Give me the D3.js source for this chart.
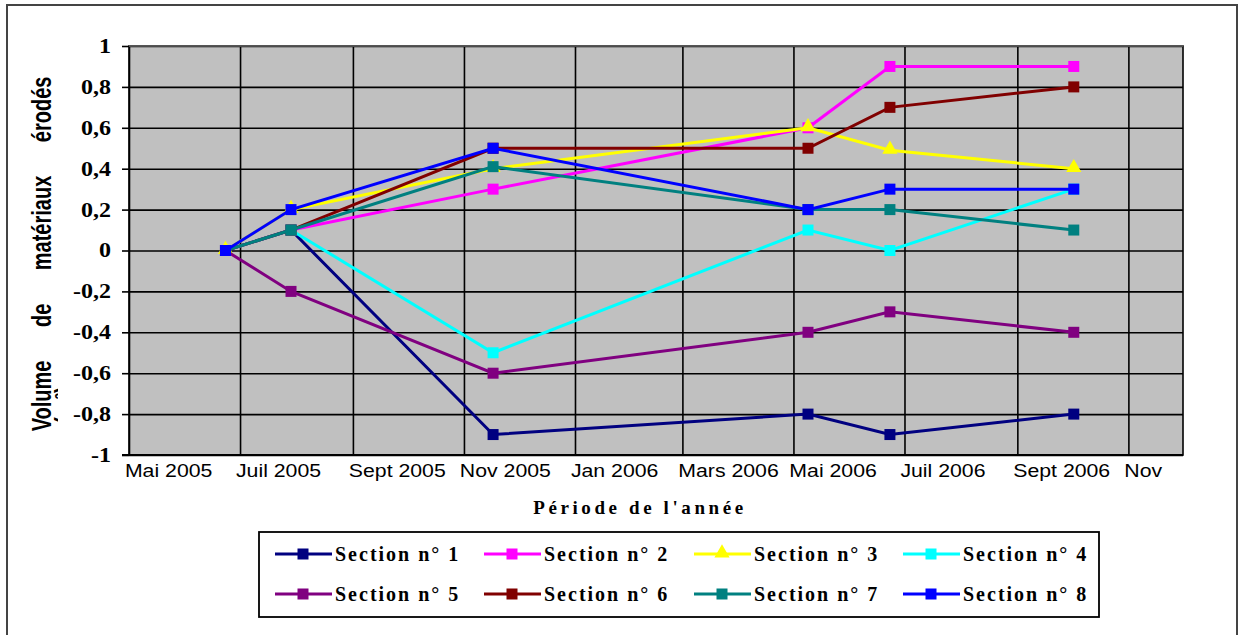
<!DOCTYPE html>
<html lang="fr">
<head>
<meta charset="utf-8">
<title>Volume de matériaux érodés</title>
<style>
  body { margin: 0; background: #fff; }
  svg { display: block; }
  .tick line { stroke: #000; stroke-width: 1.6; }
  .domain { display: none; }
</style>
<script src="https://d3js.org/d3.v7.min.js"></script>
</head>
<body>
<div class="chart"></div>
<script>
// dates of the survey campaigns
const dates = ["2005-06-23", "2005-07-29", "2005-11-17", "2006-05-09", "2006-06-23", "2006-10-02"];

const sectionNames = ["Section n° 1", "Section n° 2", "Section n° 3", "Section n° 4",
                      "Section n° 5", "Section n° 6", "Section n° 7", "Section n° 8"];
const sectionColors = ["#000080", "#ff00ff", "#ffff00", "#00ffff",
                       "#800080", "#800000", "#008080", "#0000ff"];

const section1 = [0, 0.1, -0.9, -0.8, -0.9, -0.8];
const section2 = [0, 0.1, 0.3, 0.6, 0.9, 0.9];
const section3 = [0, 0.2, 0.4, 0.6, 0.49, 0.4];
const section4 = [0, 0.1, -0.5, 0.1, 0, 0.3];
const section5 = [0, -0.2, -0.6, -0.4, -0.3, -0.4];
const section6 = [0, 0.1, 0.5, 0.5, 0.7, 0.8];
const section7 = [0, 0.1, 0.41, 0.2, 0.2, 0.1];
const section8 = [0, 0.2, 0.5, 0.2, 0.3, 0.3];
const sectionValues = [section1, section2, section3, section4, section5, section6, section7, section8];

const yTicks = [-1, -0.8, -0.6, -0.4, -0.2, 0, 0.2, 0.4, 0.6, 0.8, 1];
const monthTicks = ["2005-05-01", "2005-07-01", "2005-09-01", "2005-11-01", "2006-01-01",
                    "2006-03-01", "2006-05-01", "2006-07-01", "2006-09-01", "2006-11-01"];
const monthLabels = ["Mai 2005", "Juil 2005", "Sept 2005", "Nov 2005", "Jan 2006",
                     "Mars 2006", "Mai 2006", "Juil 2006", "Sept 2006", "Nov"];
const xDomain = ["2005-05-01", "2006-12-01"];

const W = 1244, H = 635;
const plot = { left: 129, top: 46, right: 1183, bottom: 455 };
const parse = d3.utcParse("%Y-%m-%d");
const serif = '"Liberation Serif", "Times New Roman", Times, "DejaVu Serif", serif';
const sans = '"Liberation Sans", Arial, Helvetica, "DejaVu Sans", sans-serif';

const x = d3.scaleUtc().domain(xDomain.map(parse)).range([plot.left, plot.right]);
const y = d3.scaleLinear().domain([-1, 1]).range([plot.bottom, plot.top]);

const svg = d3.select(".chart").append("svg")
  .attr("width", W).attr("height", H);

// outer frame
svg.append("rect")
  .attr("x", 7).attr("y", 5).attr("width", 1230).attr("height", 640)
  .attr("fill", "none").attr("stroke", "#444").attr("stroke-width", 2);

// plot background
svg.append("rect")
  .attr("x", plot.left).attr("y", plot.top)
  .attr("width", plot.right - plot.left).attr("height", plot.bottom - plot.top)
  .attr("fill", "#c0c0c0");

// vertical gridlines
svg.append("g")
  .attr("transform", `translate(0,${plot.bottom})`)
  .call(d3.axisBottom(x).tickValues(monthTicks.map(parse))
    .tickSize(-(plot.bottom - plot.top)).tickFormat(""));

// horizontal gridlines + y ticks
svg.append("g")
  .attr("transform", `translate(${plot.left},0)`)
  .call(d3.axisLeft(y).tickValues(yTicks).tickSizeInner(7).tickSizeOuter(0)
    .tickFormat(d => String(d).replace(".", ",")))
  .call(g => g.selectAll(".tick").append("line")
    .attr("x2", plot.right - plot.left))
  .call(g => g.selectAll("text")
    .attr("x", -15)
    .attr("transform", "scale(1.2,1)")
    .attr("font-family", serif).attr("font-weight", "bold")
    .attr("font-size", 20).attr("fill", "#000"));

// x labels
svg.append("g")
  .attr("transform", `translate(0,${plot.bottom})`)
  .call(d3.axisBottom(x).tickValues(monthTicks.map(parse)).tickSize(0)
    .tickFormat((d, i) => monthLabels[i]))
  .call(g => g.selectAll("text")
    .attr("text-anchor", "start").attr("x", -4).attr("y", 22).attr("dy", 0)
    .attr("transform", "scale(1.15,1)")
    .attr("font-family", sans).attr("font-size", 18.5).attr("fill", "#000"));

// plot frame
svg.append("rect")
  .attr("x", plot.left).attr("y", plot.top)
  .attr("width", plot.right - plot.left).attr("height", plot.bottom - plot.top)
  .attr("fill", "none").attr("stroke", "#000").attr("stroke-width", 1.6);
svg.append("line")
  .attr("x1", plot.left).attr("x2", plot.right)
  .attr("y1", plot.top).attr("y2", plot.top)
  .attr("stroke", "#666").attr("stroke-width", 1.6);
svg.append("line")
  .attr("x1", plot.left - 7).attr("x2", plot.right)
  .attr("y1", plot.bottom).attr("y2", plot.bottom)
  .attr("stroke", "#000").attr("stroke-width", 2);

// series
const line = d3.line()
  .x((d, i) => x(parse(dates[i])))
  .y(d => y(d));

const marker = (sel, i, cx, cy) => {
  if (i === 2) {
    sel.append("path")
      .attr("d", d3.symbol(d3.symbolTriangle, 100)())
      .attr("transform", `translate(${cx},${cy - 1})`)
      .attr("fill", sectionColors[i]);
  } else {
    sel.append("rect")
      .attr("x", cx - 5.5).attr("y", cy - 5.5).attr("width", 11).attr("height", 11)
      .attr("fill", sectionColors[i]);
  }
};

sectionValues.forEach((vals, i) => {
  const g = svg.append("g");
  g.append("path")
    .attr("d", line(vals))
    .attr("fill", "none")
    .attr("stroke", sectionColors[i])
    .attr("stroke-width", 3);
  vals.forEach((v, j) => marker(g, i, x(parse(dates[j])), y(v)));
});

// y axis title (second line is cut off in the original)
svg.append("clipPath").attr("id", "ytitleclip")
  .append("rect").attr("x", 0).attr("y", 0).attr("width", 58).attr("height", H);

svg.append("text")
  .attr("transform", "translate(51,254) scale(1.35,1) rotate(-90)")
  .attr("text-anchor", "middle")
  .attr("font-family", sans).attr("font-weight", "bold")
  .attr("font-size", 20).style("word-spacing", "28px")
  .text("Volume de matériaux érodés");

svg.append("g")
  .attr("clip-path", "url(#ytitleclip)")
  .append("text")
  .attr("transform", "translate(74,424) scale(1.35,1) rotate(-90)")
  .attr("text-anchor", "start")
  .attr("font-family", sans).attr("font-weight", "bold")
  .attr("font-size", 20)
  .text("(m³)");

// x axis title
svg.append("text")
  .attr("x", 640).attr("y", 514)
  .attr("text-anchor", "middle")
  .attr("font-family", serif).attr("font-weight", "bold")
  .attr("font-size", 19).style("letter-spacing", "3.6px")
  .text("Période de l'année");

// legend
const legend = svg.append("g");
legend.append("rect")
  .attr("x", 259).attr("y", 532).attr("width", 840).attr("height", 85)
  .attr("fill", "#fff").attr("stroke", "#000").attr("stroke-width", 1.8);

const colX = [275, 484, 694, 903];
const rowY = [554, 594];
sectionNames.forEach((name, i) => {
  const lx = colX[i % 4], ly = rowY[Math.floor(i / 4)];
  legend.append("line")
    .attr("x1", lx).attr("x2", lx + 57).attr("y1", ly).attr("y2", ly)
    .attr("stroke", sectionColors[i]).attr("stroke-width", 3);
  marker(legend, i, lx + 28, ly);
  legend.append("text")
    .attr("x", lx + 60).attr("y", ly + 7)
    .attr("font-family", serif).attr("font-weight", "bold")
    .attr("font-size", 20).style("letter-spacing", "2px")
    .text(name);
});
</script>
</body>
</html>
